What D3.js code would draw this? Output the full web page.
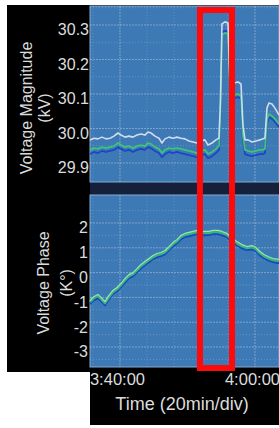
<!DOCTYPE html>
<html>
<head>
<meta charset="utf-8">
<script src="https://cdn.jsdelivr.net/npm/d3@7"></script>
<style>
  body { margin: 0; background: #fff; }
  svg { display: block; font-family: "Liberation Sans", Arial, sans-serif; }
</style>
</head>
<body>
<svg></svg>
<script>
// minutes after 3:40:00 for the magnitude samples
const magMinutes = [
  -4.44, -3.85, -3.26, -2.67, -2.07, -1.48, -0.89, -0.30,
  0.15, 0.74, 1.33, 1.93, 2.52, 3.11, 3.70, 4.15,
  4.59, 5.19, 5.78, 6.22, 6.67, 7.26, 7.85, 8.44,
  9.04, 9.63, 10.22, 10.81, 11.41, 12.00, 12.59, 13.04,
  13.63, 14.22, 14.67, 14.89, 15.11, 15.56, 16.00, 16.30,
  16.89, 17.48, 17.93, 18.22, 18.52, 18.96, 19.56, 20.15,
  20.74, 21.19, 21.48, 21.78, 22.07, 22.52, 22.96, 23.56
];
// voltage magnitude (kV)
const magWhite = [
  29.967, 29.972, 29.970, 29.975, 29.970, 29.972, 29.978, 29.987,
  29.981, 29.975, 29.978, 29.975, 29.981, 29.984, 29.981, 29.990,
  29.987, 29.978, 29.972, 29.958, 29.970, 29.975, 29.972, 29.975,
  29.972, 29.970, 29.964, 29.961, 29.958, 29.964, 29.967, 29.952,
  29.958, 29.967, 29.972, 30.083, 30.303, 30.309, 30.306, 30.129,
  30.132, 30.135, 30.129, 30.010, 29.967, 29.967, 29.961, 29.964,
  29.967, 29.970, 29.972, 30.059, 30.074, 30.071, 30.059, 30.039
];
const magGreen = [
  29.938, 29.943, 29.941, 29.946, 29.943, 29.946, 29.949, 29.958,
  29.952, 29.946, 29.949, 29.943, 29.949, 29.952, 29.949, 29.958,
  29.955, 29.946, 29.941, 29.929, 29.938, 29.943, 29.941, 29.943,
  29.941, 29.938, 29.935, 29.932, 29.929, 29.935, 29.938, 29.926,
  29.932, 29.941, 29.949, 30.054, 30.271, 30.277, 30.274, 30.097,
  30.097, 30.100, 30.094, 29.981, 29.938, 29.935, 29.932, 29.935,
  29.938, 29.938, 29.941, 30.025, 30.042, 30.036, 30.028, 30.013
];
const magBlue = [
  29.926, 29.932, 29.929, 29.935, 29.932, 29.935, 29.938, 29.946,
  29.941, 29.935, 29.938, 29.932, 29.938, 29.941, 29.938, 29.946,
  29.943, 29.935, 29.929, 29.917, 29.926, 29.932, 29.929, 29.932,
  29.929, 29.926, 29.923, 29.920, 29.917, 29.923, 29.926, 29.914,
  29.920, 29.929, 29.938, 30.048, 30.280, 30.283, 30.280, 30.091,
  30.088, 30.091, 30.086, 29.972, 29.926, 29.923, 29.920, 29.923,
  29.926, 29.926, 29.929, 30.016, 30.033, 30.028, 30.019, 30.004
];

// minutes after 3:40:00 for the phase samples
const phaseMinutes = [
  -4.44, -3.85, -3.26, -2.81, -2.22, -1.63, -1.04, -0.44,
  0.15, 0.74, 1.33, 1.93, 2.52, 3.11, 3.70, 4.30,
  4.89, 5.48, 6.07, 6.67, 7.26, 7.85, 8.44, 9.04,
  9.63, 10.22, 10.81, 11.41, 12.00, 12.59, 13.19, 13.78,
  14.52, 15.11, 15.85, 16.59, 17.33, 18.07, 18.81, 19.56,
  20.15, 20.74, 21.33, 21.93, 22.67, 23.56
];
const phaseLight = [
  -1.13, -0.96, -0.88, -1.00, -1.17, -0.92, -0.72, -0.60,
  -0.44, -0.24, -0.08, 0.00, 0.16, 0.33, 0.45, 0.57,
  0.69, 0.77, 0.81, 0.89, 1.05, 1.21, 1.33, 1.50,
  1.58, 1.62, 1.66, 1.70, 1.66, 1.66, 1.66, 1.70,
  1.70, 1.66, 1.58, 1.41, 1.25, 1.13, 1.05, 1.09,
  1.01, 0.85, 0.73, 0.65, 0.57, 0.53
];
const phaseGreen = [
  -1.19, -1.02, -0.94, -1.06, -1.23, -0.98, -0.78, -0.66,
  -0.50, -0.30, -0.14, -0.06, 0.10, 0.27, 0.39, 0.51,
  0.63, 0.71, 0.75, 0.83, 0.99, 1.15, 1.27, 1.44,
  1.52, 1.56, 1.60, 1.64, 1.60, 1.60, 1.60, 1.64,
  1.64, 1.60, 1.52, 1.35, 1.19, 1.07, 0.99, 1.03,
  0.95, 0.79, 0.67, 0.59, 0.51, 0.47
];
const phaseBlue = [
  -1.27, -1.10, -1.03, -1.14, -1.31, -1.07, -0.86, -0.75,
  -0.58, -0.39, -0.22, -0.15, 0.02, 0.18, 0.31, 0.42,
  0.55, 0.62, 0.67, 0.74, 0.91, 1.06, 1.19, 1.35,
  1.44, 1.47, 1.52, 1.55, 1.52, 1.51, 1.52, 1.55,
  1.56, 1.51, 1.44, 1.26, 1.11, 0.98, 0.91, 0.94,
  0.87, 0.70, 0.59, 0.50, 0.43, 0.38
];

// tick labels
const magTicks = [29.9, 30.0, 30.1, 30.2, 30.3];
const phaseTicks = [-3, -2, -1, 0, 1, 2];
const timeTicks = [0, 20];          // minutes after 3:40:00
const highlight = [11.85, 16.6];    // red box, minutes after 3:40:00

const width = 279;
const height = 428;
const plotLeft = 90;
const plotRight = 279;
const magTop = 6, magBottom = 182;
const phaseTop = 195, phaseBottom = 367;

const base = new Date(2000, 0, 1, 3, 40, 0);
const toTime = (m) => new Date(base.getTime() + m * 60000);

const svg = d3.select("svg").attr("width", width).attr("height", height);

// black frame behind the panels
svg.append("rect").attr("x", 7).attr("y", 5).attr("width", width - 7).attr("height", 367).attr("fill", "#000");
svg.append("rect").attr("x", plotLeft).attr("y", 372).attr("width", width - plotLeft).attr("height", 53).attr("fill", "#000");

// Scales
const x = d3.scaleTime()
  .domain([toTime(-4.44), toTime(23.56)])
  .range([plotLeft, plotRight]);
const yMag = d3.scaleLinear().domain([29.845, 30.355]).range([magBottom, magTop]);
const yPhase = d3.scaleLinear().domain([-3.806, 3.129]).range([phaseBottom, phaseTop]);

// dark band between the panels
svg.append("rect")
  .attr("x", plotLeft).attr("y", magBottom)
  .attr("width", plotRight - plotLeft).attr("height", phaseTop - magBottom)
  .attr("fill", "#15213a");

function drawPanel(top, bottom, y, majors, minors) {
  const g = svg.append("g");
  g.append("rect")
    .attr("x", plotLeft).attr("y", top)
    .attr("width", plotRight - plotLeft).attr("height", bottom - top)
    .attr("fill", "#3d79b5")
    .attr("stroke", "#86a9cf")
    .attr("stroke-width", 1);

  // minor grid
  const minorTimes = d3.range(-4, 24, 4).filter((m) => !timeTicks.includes(m));
  g.selectAll(".vminor").data(minorTimes).join("line")
    .attr("x1", (d) => x(toTime(d))).attr("x2", (d) => x(toTime(d)))
    .attr("y1", top).attr("y2", bottom)
    .attr("stroke", "rgba(255,255,255,0.16)").attr("stroke-dasharray", "1,2");
  g.selectAll(".hminor").data(minors).join("line")
    .attr("x1", plotLeft).attr("x2", plotRight)
    .attr("y1", (d) => y(d)).attr("y2", (d) => y(d))
    .attr("stroke", "rgba(255,255,255,0.2)").attr("stroke-dasharray", "1,2");

  // major grid
  g.selectAll(".vmajor").data(timeTicks).join("line")
    .attr("x1", (d) => x(toTime(d))).attr("x2", (d) => x(toTime(d)))
    .attr("y1", top).attr("y2", bottom)
    .attr("stroke", "rgba(255,255,255,0.32)").attr("stroke-dasharray", "2,1");
  g.selectAll(".hmajor").data(majors).join("line")
    .attr("x1", plotLeft).attr("x2", plotRight)
    .attr("y1", (d) => y(d)).attr("y2", (d) => y(d))
    .attr("stroke", "rgba(255,255,255,0.32)").attr("stroke-dasharray", "2,1");
}

drawPanel(magTop, magBottom, yMag, magTicks, [29.95, 30.05, 30.15, 30.25, 30.35]);
drawPanel(phaseTop, phaseBottom, yPhase, phaseTicks, [-3.5, -2.5, -1.5, -0.5, 0.5, 1.5, 2.5]);

// Lines
const drawLine = (minutes, values, y, color, w) => {
  const pts = minutes.map((m, i) => [x(toTime(m)), y(values[i])]);
  svg.append("path")
    .attr("d", d3.line()(pts))
    .attr("fill", "none")
    .attr("stroke", color)
    .attr("stroke-width", w)
    .attr("stroke-linejoin", "round");
};

drawLine(magMinutes, magBlue, yMag, "#1e45c8", 1.8);
drawLine(magMinutes, magGreen, yMag, "#3cc477", 1.8);
drawLine(magMinutes, magWhite, yMag, "#cfdcef", 1.6);

drawLine(phaseMinutes, phaseBlue, yPhase, "#1e45c8", 2.2);
drawLine(phaseMinutes, phaseGreen, yPhase, "#33b873", 2.6);
drawLine(phaseMinutes, phaseLight, yPhase, "#9fe0b6", 1.2);

// Axes
const textColor = "#dcdcdc";

svg.append("g")
  .attr("transform", `translate(${plotLeft - 1},0)`)
  .call(d3.axisLeft(yMag).tickValues(magTicks).tickFormat(d3.format(".1f")).tickSize(0).tickPadding(0))
  .call((g) => g.select(".domain").remove())
  .selectAll("text")
  .attr("dy", "0.62em")
  .attr("fill", textColor)
  .style("font-size", "16px");

svg.append("g")
  .attr("transform", `translate(${plotLeft - 2},0)`)
  .call(d3.axisLeft(yPhase).tickValues(phaseTicks).tickFormat((d) => String(d)).tickSize(0).tickPadding(0))
  .call((g) => g.select(".domain").remove())
  .selectAll("text")
  .attr("dy", "0.62em")
  .attr("fill", textColor)
  .style("font-size", "16px");

svg.append("g")
  .attr("transform", "translate(0,370)")
  .call(d3.axisBottom(x).tickValues(timeTicks.map(toTime)).tickFormat(d3.timeFormat("%-H:%M:%S")).tickSize(0).tickPadding(3))
  .call((g) => g.select(".domain").remove())
  .selectAll("text")
  .attr("dx", -3)
  .attr("fill", textColor)
  .style("font-size", "16.5px");

// Axis titles
const yTitle = (lines, cx, cy) => {
  lines.forEach((t, i) => {
    svg.append("text")
      .attr("transform", `translate(${cx[i]},${cy}) rotate(-90)`)
      .attr("text-anchor", "middle")
      .attr("dy", "0.35em")
      .attr("fill", textColor)
      .style("font-size", "16px")
      .text(t);
  });
};
yTitle(["Voltage Magnitude", "(kV)"], [26, 44], 108);
yTitle(["Voltage Phase", "(K°)"], [43, 66], 283);

svg.append("text")
  .attr("x", 182)
  .attr("y", 410)
  .attr("text-anchor", "middle")
  .attr("fill", textColor)
  .style("font-size", "18px")
  .text("Time (20min/div)");

// red highlight box
svg.append("rect")
  .attr("x", x(toTime(highlight[0])))
  .attr("y", 10)
  .attr("width", x(toTime(highlight[1])) - x(toTime(highlight[0])))
  .attr("height", 358)
  .attr("fill", "none")
  .attr("stroke", "#ff0a0a")
  .attr("stroke-width", 6);
</script>
</body>
</html>
